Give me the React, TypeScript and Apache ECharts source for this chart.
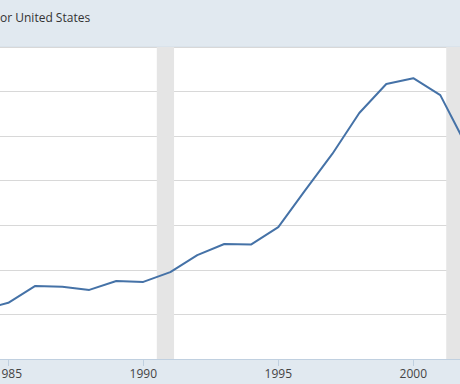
import React, { useEffect, useRef } from "react";
import * as echarts from "echarts";

const years = [1984, 1985, 1986, 1987, 1988, 1989, 1990, 1991, 1992, 1993, 1994, 1995, 1996, 1997, 1998, 1999, 2000, 2001, 2002];
const values = [1.10, 1.26, 1.64, 1.62, 1.55, 1.75, 1.73, 1.95, 2.33, 2.58, 2.57, 2.96, 3.79, 4.6, 5.52, 6.17, 6.3, 5.92, 4.75];
const tickYears = [1985, 1990, 1995, 2000];
const recessions: [number, number][] = [
  [1990.5, 1991.14],
  [2001.22, 2001.9],
];
const titleText = "or United States";

export default function App() {
  const ref = useRef<HTMLDivElement>(null);
  useEffect(() => {
    if (!ref.current) return;
    const chart = echarts.init(ref.current, null, { renderer: "svg" });
    const font = "'Open Sans', 'Noto Sans', sans-serif";
    chart.setOption({
      animation: false,
      backgroundColor: "#e1e9f0",
      graphic: [
        {
          type: "text",
          left: 0,
          top: 11,
          style: { text: titleText, fill: "#333333", font: `12px ${font}` },
        },
        {
          type: "line",
          shape: { x1: 0, y1: 47, x2: 460, y2: 47 },
          style: { stroke: "#d3dde6", lineWidth: 1 },
        },
      ],
      grid: {
        left: 0,
        right: 0,
        top: 47,
        bottom: 25,
        outerBoundsMode: "none",
        containLabel: false,
        show: true,
        backgroundColor: "#ffffff",
        borderWidth: 0,
      },
      xAxis: {
        type: "value",
        min: 1984.693,
        max: 2001.73,
        axisLine: { show: true, lineStyle: { color: "#c0d0e0", width: 1 } },
        axisTick: {
          show: true,
          length: 7,
          lineStyle: { color: "#c0d0e0" },
          customValues: tickYears,
        },
        axisLabel: {
          customValues: tickYears,
          color: "#444444",
          fontSize: 12,
          fontFamily: font,
          margin: 8,
          hideOverlap: false,
          formatter: (v: number) => String(Math.round(v)),
        },
        splitLine: { show: false },
      },
      yAxis: {
        type: "value",
        min: 0,
        max: 7,
        interval: 1,
        axisLabel: { show: false },
        axisLine: { show: false },
        axisTick: { show: false },
        splitLine: { show: true, lineStyle: { color: "#d8d8d8", width: 1 } },
      },
      series: [
        {
          type: "line",
          data: years.map((y, i) => [y, values[i]]),
          symbol: "none",
          lineStyle: { color: "#4572a7", width: 2 },
          z: 3,
          markArea: {
            silent: true,
            itemStyle: { color: "#e5e5e5" },
            data: recessions.map(([a, b]) => [{ xAxis: a }, { xAxis: b }]),
          },
        },
      ],
    });
    return () => chart.dispose();
  }, []);
  return <div ref={ref} style={{ width: 460, height: 384, position: "absolute", left: 0, top: 0 }} />;
}
